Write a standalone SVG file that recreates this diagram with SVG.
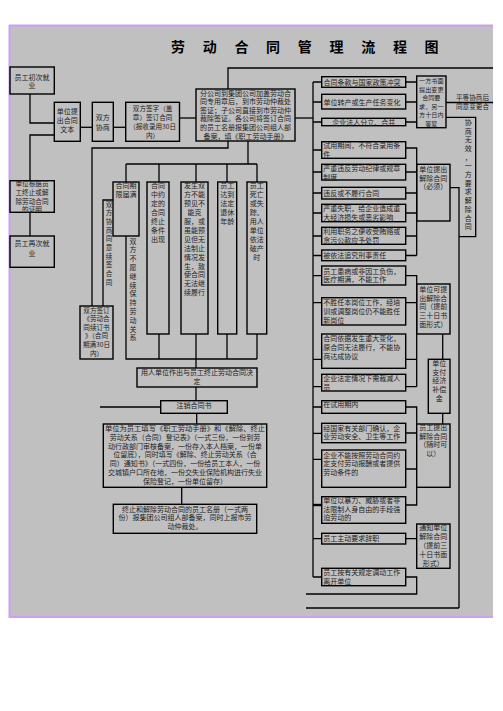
<svg xmlns="http://www.w3.org/2000/svg" width="503" height="711" viewBox="0 0 503 711">
<style>
.bx{fill:none;stroke:#000;stroke-width:1.4}
.ln{fill:none;stroke:#000;stroke-width:1.3}
.t{font-family:"Noto Sans CJK SC","Noto Sans",sans-serif;font-size:7px;fill:#222}
.s{font-size:6.6px}
.xs{font-size:6.1px}
.m{text-anchor:middle}
.ti{font-family:"Noto Sans CJK SC",sans-serif;font-size:14px;font-weight:bold;fill:#000;text-anchor:middle}
</style>
<rect x="0" y="0" width="503" height="711" fill="#fff"/>
<rect x="10" y="26" width="483" height="591" fill="#c0c0c0"/>
<line x1="9" y1="25.5" x2="493" y2="25.5" stroke="#c9a0f5" stroke-width="2"/>
<line x1="9" y1="617" x2="493" y2="617" stroke="#c9a0f5" stroke-width="2"/>
<line x1="9.5" y1="25" x2="9.5" y2="618" stroke="#c9a0f5" stroke-width="2"/>

<g id="title">
<text class="ti" x="178" y="52">劳</text><text class="ti" x="209.7" y="52">动</text><text class="ti" x="241.4" y="52">合</text><text class="ti" x="273" y="52">同</text><text class="ti" x="304.8" y="52">管</text><text class="ti" x="336.5" y="52">理</text><text class="ti" x="368.2" y="52">流</text><text class="ti" x="400" y="52">程</text><text class="ti" x="431.6" y="52">图</text>
</g>

<g id="connectors">
<polyline class="ln" points="30,94 30,123 54.3,123"/>
<polyline class="ln" points="54.3,135 30,135 30,180.7"/>
<line class="ln" x1="30" y1="212.3" x2="30" y2="236"/>
<line class="ln" x1="80.3" y1="127.3" x2="92.3" y2="127.3"/>
<line class="ln" x1="113.3" y1="127.3" x2="125.7" y2="127.3"/>
<line class="ln" x1="179.5" y1="118" x2="196" y2="118"/>
<polyline class="ln" points="228,89 228,68 493,68"/>
<polyline class="ln" points="92,306 92,148 228,148 228,141"/>
<line class="ln" x1="248" y1="141" x2="248" y2="164"/>
<line class="ln" x1="126" y1="164" x2="257" y2="164"/>
<line class="ln" x1="126" y1="164" x2="126" y2="182"/>
<line class="ln" x1="159" y1="164" x2="159" y2="182"/>
<line class="ln" x1="196" y1="164" x2="196" y2="182"/>
<line class="ln" x1="227" y1="164" x2="227" y2="182"/>
<line class="ln" x1="257" y1="164" x2="257" y2="182"/>
<polyline class="ln" points="113,200 103,200 103,306"/>
<polyline class="ln" points="126,236 126,359 257,359"/>
<line class="ln" x1="159" y1="334" x2="159" y2="359"/>
<line class="ln" x1="196" y1="334" x2="196" y2="368"/>
<line class="ln" x1="227" y1="334" x2="227" y2="359"/>
<line class="ln" x1="257" y1="334" x2="257" y2="359"/>
<line class="ln" x1="196" y1="387" x2="196" y2="400.7"/>
<line class="ln" x1="100" y1="407" x2="160.7" y2="407"/>
<line class="ln" x1="196.7" y1="413.3" x2="196.7" y2="424"/>
<line class="ln" x1="181.7" y1="487.3" x2="181.7" y2="504.3"/>
<line class="ln" x1="295" y1="118" x2="313" y2="118"/>
<line class="ln" x1="313" y1="82" x2="313" y2="577"/>
<path class="ln" d="M313,82H321.7M313,102H321.7M313,122H321.7M313,150H321.7M313,172H321.7M313,193H321.7M313,213H321.7M313,236H321.7M313,255.5H321.7M313,275.7H321.7M313,302.7H321.7M313,359.3H321.7M313,386.7H321.7M313,407H321.7M313,433.3H321.7M313,459.3H321.7M313,538.7H321.7M313,577H321.7"/>
<line x1="313" y1="505" x2="321.7" y2="505" stroke="#000" stroke-width="2.4"/>
<path class="ln" d="M405.7,82H416.7M405.7,102H416.7M405.7,122H416.7"/>
<line class="ln" x1="446" y1="102.5" x2="493" y2="102.5"/>
<polyline class="ln" points="446,117.3 475.7,117.3 475.7,236.7 459,236.7"/>
<path class="ln" d="M405.7,148H416.7V255.5M405.7,172H416.7M405.7,193H416.7M405.7,213H416.7M405.7,236H416.7M405.7,255.5H416.7"/>
<polyline class="ln" points="450,187.7 459,187.7 459,608"/>
<path class="ln" d="M405.7,275.7H416.7V386.7M405.7,302.7H416.7M405.7,359.3H416.7M405.7,386.7H416.7"/>
<line class="ln" x1="442.7" y1="334" x2="442.7" y2="359.3"/>
<line class="ln" x1="442.7" y1="413.3" x2="442.7" y2="424"/>
<path class="ln" d="M405.7,407H416.7V424M405.7,433H416.7M405.7,469H416.7M405.7,505H416.7V487.3"/>
<path class="ln" d="M405.7,538.7H416.7M405.7,577H416.7V594H306"/>
<line class="ln" x1="306" y1="608" x2="459" y2="608"/>
</g>

<g id="n_first"><rect class="bx" x="10" y="67" width="44.3" height="27"/>
<text class="t m" x="32" y="79.8">员工初次就</text><text class="t m" x="32" y="88.4">业</text></g>
<g id="n_text"><rect class="bx" x="54.3" y="102.3" width="26" height="39"/>
<text class="t m" x="67.3" y="114.2">单位提</text><text class="t m" x="67.3" y="123.3">出合同</text><text class="t m" x="67.3" y="132.4">文本</text></g>
<g id="n_nego"><rect class="bx" x="92.3" y="102.3" width="21" height="39"/>
<text class="t m" x="102.8" y="120.2">双方</text><text class="t m" x="102.8" y="129.8">协商</text></g>
<g id="n_sign"><rect class="bx" x="125.7" y="102.3" width="53.8" height="39"/>
<text class="t s m" x="152.6" y="111.3">双方签字（盖</text><text class="t s m" x="152.6" y="120.1">章）签订合同</text><text class="t s m" x="152.6" y="128.9">（报收录用30日</text><text class="t s m" x="152.6" y="137.7">内）</text></g>
<g id="n_reg"><rect class="bx" x="196" y="89" width="99" height="52"/>
<text class="t m" x="245.5" y="95.5">分公司到集团公司加盖劳动合</text><text class="t m" x="245.5" y="104.1">同专用章后，到市劳动仲裁处</text><text class="t m" x="245.5" y="112.7">签证；子公司直接到市劳动仲</text><text class="t m" x="245.5" y="121.3">裁除签证。各公司将签订合同</text><text class="t m" x="245.5" y="129.9">的员工名册报集团公司组人部</text><text class="t m" x="245.5" y="138.5">备案，填《职工劳动手册》</text></g>
<g id="n_proof"><rect class="bx" x="10" y="180.7" width="44.3" height="31.6"/>
<text class="t s m" x="32" y="186.3">单位根据员</text><text class="t s m" x="32" y="194.9">工终止或解</text><text class="t s m" x="32" y="203.5">除劳动合同</text><text class="t s m" x="32" y="212.1">的证明</text></g>
<g id="n_again"><rect class="bx" x="10" y="236" width="44.3" height="31.3"/>
<text class="t m" x="32" y="246">员工再次就</text><text class="t m" x="32" y="255.5">业</text></g>
<g id="n_renew"><rect class="bx" x="80" y="306" width="33" height="53"/>
<text class="t s m" x="96.5" y="312.6">双方签订</text><text class="t s m" x="96.5" y="321.2">《劳动合</text><text class="t s m" x="96.5" y="329.8">同续订书</text><text class="t s m" x="96.5" y="338.4">》（合同</text><text class="t s m" x="96.5" y="347">期满30日</text><text class="t s m" x="96.5" y="355.6">内）</text></g>
<g id="n_agree"><text class="t s m" x="109" y="206.5">双</text><text class="t s m" x="109" y="215.2">方</text><text class="t s m" x="109" y="223.9">协</text><text class="t s m" x="109" y="232.6">商</text><text class="t s m" x="109" y="241.3">同</text><text class="t s m" x="109" y="250">意</text><text class="t s m" x="109" y="258.7">续</text><text class="t s m" x="109" y="267.4">签</text><text class="t s m" x="109" y="276.1">合</text><text class="t s m" x="109" y="284.8">同</text></g>
<g id="n_expire"><rect class="bx" x="113" y="182" width="26" height="54"/>
<text class="t m" x="126" y="188.4">合同期</text><text class="t m" x="126" y="197">限届满</text></g>
<g id="n_unwill"><text class="t m" x="133" y="243.6">双</text><text class="t m" x="133" y="252.4">方</text><text class="t m" x="133" y="261.2">不</text><text class="t m" x="133" y="270">愿</text><text class="t m" x="133" y="278.8">继</text><text class="t m" x="133" y="287.6">续</text><text class="t m" x="133" y="296.4">保</text><text class="t m" x="133" y="305.2">持</text><text class="t m" x="133" y="314">劳</text><text class="t m" x="133" y="322.8">动</text><text class="t m" x="133" y="331.6">关</text><text class="t m" x="133" y="340.4">系</text></g>
<g id="n_cond"><rect class="bx" x="147" y="182" width="22" height="152"/>
<text class="t m" x="158" y="188.4">合同</text><text class="t m" x="158" y="197.3">中约</text><text class="t m" x="158" y="206.2">定的</text><text class="t m" x="158" y="215.1">合同</text><text class="t m" x="158" y="224">终止</text><text class="t m" x="158" y="232.9">条件</text><text class="t m" x="158" y="241.8">出现</text></g>
<g id="n_force"><rect class="bx" x="181" y="182" width="27" height="152"/>
<text class="t m" x="194.5" y="188.4">发生双</text><text class="t m" x="194.5" y="197.3">方不能</text><text class="t m" x="194.5" y="206.2">预见不</text><text class="t m" x="194.5" y="215.1">能克</text><text class="t m" x="194.5" y="224">服，或</text><text class="t m" x="194.5" y="232.9">虽能预</text><text class="t m" x="194.5" y="241.8">见但无</text><text class="t m" x="194.5" y="250.7">法制止</text><text class="t m" x="194.5" y="259.6">情况发</text><text class="t m" x="194.5" y="268.5">生，致</text><text class="t m" x="194.5" y="277.4">使合同</text><text class="t m" x="194.5" y="286.3">无法继</text><text class="t m" x="194.5" y="295.2">续履行</text></g>
<g id="n_retire"><rect class="bx" x="217.7" y="182" width="19" height="152"/>
<text class="t m" x="227.2" y="188.4">员工</text><text class="t m" x="227.2" y="197.3">达到</text><text class="t m" x="227.2" y="206.2">法定</text><text class="t m" x="227.2" y="215.1">退休</text><text class="t m" x="227.2" y="224">年龄</text></g>
<g id="n_death"><rect class="bx" x="247" y="182" width="19.7" height="152"/>
<text class="t m" x="256.8" y="188.4">员工</text><text class="t m" x="256.8" y="197.3">死亡</text><text class="t m" x="256.8" y="206.2">或失</text><text class="t m" x="256.8" y="215.1">踪、</text><text class="t m" x="256.8" y="224">用人</text><text class="t m" x="256.8" y="232.9">单位</text><text class="t m" x="256.8" y="241.8">依法</text><text class="t m" x="256.8" y="250.7">破产</text><text class="t m" x="256.8" y="259.6">时</text></g>
<g id="n_decide"><rect class="bx" x="137" y="368" width="120" height="19"/>
<text class="t m" x="197" y="374.8">用人单位作出与员工终止劳动合同决</text><text class="t m" x="197" y="383.6">定</text></g>
<g id="n_cancel"><rect class="bx" x="160.7" y="400.7" width="66.6" height="12.6"/>
<text class="t m" x="194" y="407.8">注销合同书</text></g>
<g id="n_fill"><rect class="bx" x="103.3" y="424" width="163.4" height="63.3"/>
<text class="t m" x="185" y="431" textLength="160" lengthAdjust="spacingAndGlyphs">单位为员工填写《职工劳动手册》和《解除、终止</text>
<text class="t m" x="185" y="439.8">劳动关系（合同）登记表》（一式三份，一份到劳</text>
<text class="t m" x="185" y="448.6">动行政部门审核备案，一份存入本人档案，一份单</text>
<text class="t m" x="185" y="457.4">位留底），同时填写《解除、终止劳动关系（合</text>
<text class="t m" x="185" y="466.2">同）通知书》（一式四份，一份给员工本人，一份</text>
<text class="t m" x="185" y="475">交城镇户口所在地，一份交失业保险机构进行失业</text>
<text class="t m" x="185" y="483.8">保险登记，一份单位留存）</text></g>
<g id="n_list"><rect class="bx" x="113.3" y="504.3" width="143.4" height="29"/>
<text class="t m" x="185" y="511.5">终止和解除劳动合同的员工名册（一式两</text>
<text class="t m" x="185" y="520.3">份）报集团公司组人部备案，同时上报市劳</text>
<text class="t m" x="185" y="529.1">动仲裁处。</text></g>

<g id="r1"><rect class="bx" x="321.7" y="76.7" width="84" height="10.6"/><text class="t" x="323.5" y="84.5">合同条款与国家政策冲突</text></g>
<g id="r2"><rect class="bx" x="321.7" y="94.3" width="84" height="14.7"/><text class="t" x="323.5" y="104.5">单位转产或生产任务变化</text></g>
<g id="r3"><rect class="bx" x="321.7" y="118.3" width="84" height="7.4"/><text class="t m" x="363.7" y="124.5">企业法人分立、合并</text></g>
<g id="n_change"><rect class="bx" x="416.7" y="76" width="29.3" height="51.7"/>
<text class="t xs m" x="431.3" y="83.3">一方书面</text><text class="t xs m" x="431.3" y="91.8">提出变更</text><text class="t xs m" x="431.3" y="100.3">合同要</text><text class="t xs m" x="431.3" y="108.8">求，另一</text><text class="t xs m" x="431.3" y="117.3">方十日内</text><text class="t xs m" x="431.3" y="125.8">答复</text></g>
<g id="n_equal"><text class="t s m" x="472.5" y="100.3">平等协商后</text><text class="t s m" x="472.5" y="109">同意变更合</text></g>
<g id="n_fail"><text class="t m" x="468.3" y="124.8">协</text><text class="t m" x="468.3" y="133.5">商</text><text class="t m" x="468.3" y="142.2">无</text><text class="t m" x="468.3" y="150.9">效</text><text class="t m" x="468.3" y="159.6">，</text><text class="t m" x="468.3" y="168.3">一</text><text class="t m" x="468.3" y="177">方</text><text class="t m" x="468.3" y="185.7">要</text><text class="t m" x="468.3" y="194.4">求</text><text class="t m" x="468.3" y="203.1">解</text><text class="t m" x="468.3" y="211.8">除</text><text class="t m" x="468.3" y="220.5">合</text><text class="t m" x="468.3" y="229.2">同</text></g>

<g id="r4"><rect class="bx" x="321.7" y="141.7" width="84" height="16.6"/><text class="t" x="323.3" y="148.3">试用期间，不符合录用条</text><text class="t" x="323.3" y="157">件</text></g>
<g id="r5"><rect class="bx" x="321.7" y="164.3" width="84" height="15.7"/><text class="t" x="323.3" y="171.3">严重违反劳动纪律或规章</text><text class="t" x="323.3" y="180">制度</text></g>
<g id="r6"><rect class="bx" x="321.7" y="187.3" width="84" height="11.7"/><text class="t" x="323.3" y="195.5">违反或不履行合同</text></g>
<g id="r7"><rect class="bx" x="321.7" y="204.3" width="84" height="17.4"/><text class="t" x="323.3" y="211">严重失职，给企业造成重</text><text class="t" x="323.3" y="219.8">大经济损失或恶劣影响</text></g>
<g id="r8"><rect class="bx" x="321.7" y="227.3" width="84" height="17"/><text class="t" x="323.3" y="233.8">利用职务之便收受贿赂或</text><text class="t" x="323.3" y="242.6">贪污公款应予处罚</text></g>
<g id="r9"><rect class="bx" x="321.7" y="250" width="84" height="10.7"/><text class="t" x="323.3" y="257.8">被依法追究刑事责任</text></g>
<g id="n_must"><rect class="bx" x="416.7" y="164.3" width="33.3" height="56.7"/>
<text class="t m" x="433.3" y="171.8">单位提出</text><text class="t m" x="433.3" y="180.6">解除合同</text><text class="t m" x="433.3" y="189.4">（必须）</text></g>

<g id="r10"><rect class="bx" x="321.7" y="266" width="84" height="19"/><text class="t" x="323.3" y="273.5">员工患病或非因工负伤，</text><text class="t" x="323.3" y="282.3">医疗期满，不能工作</text></g>
<g id="r11"><rect class="bx" x="321.7" y="297.7" width="84" height="27.3"/><text class="t" x="323.3" y="305.2">不胜任本岗位工作，经培</text><text class="t" x="323.3" y="314">训或调整岗位仍不能胜任</text><text class="t" x="323.3" y="322.8">新岗位</text></g>
<g id="r12"><rect class="bx" x="321.7" y="334" width="84" height="34.3"/><text class="t" x="323.3" y="341.2">合同依据发生重大变化，</text><text class="t" x="323.3" y="350">原合同无法履行，不能协</text><text class="t" x="323.3" y="358.8">商达成协议</text></g>
<g id="r13"><rect class="bx" x="321.7" y="374.3" width="84" height="16.7"/><text class="t" x="323.3" y="381.2">企业法定情况下需裁减人</text><text class="t" x="323.3" y="390">员</text></g>
<g id="n_may"><rect class="bx" x="416.7" y="284" width="33.3" height="50"/>
<text class="t m" x="433.3" y="291.8">单位可提</text><text class="t m" x="433.3" y="300.6">出解除合</text><text class="t m" x="433.3" y="309.4">同（提前</text><text class="t m" x="433.3" y="318.2">三十日书</text><text class="t m" x="433.3" y="327">面形式）</text></g>
<g id="n_comp"><rect class="bx" x="428.3" y="359.3" width="21.7" height="54"/>
<text class="t m" x="439.2" y="365.8">单位</text><text class="t m" x="439.2" y="374.6">支付</text><text class="t m" x="439.2" y="383.4">经济</text><text class="t m" x="439.2" y="392.2">补偿</text><text class="t m" x="439.2" y="401">金</text></g>

<g id="r14"><rect class="bx" x="321.7" y="400.7" width="84" height="12.6"/><text class="t" x="323.3" y="407.2">在试用期内</text></g>
<g id="r15"><rect class="bx" x="321.7" y="423.3" width="84" height="19.4"/><text class="t" x="323.3" y="430.5">经国家有关部门确认，企</text><text class="t" x="323.3" y="439.3">业劳动安全、卫生等工作</text></g>
<g id="r16"><rect class="bx" x="321.7" y="450" width="84" height="37.3"/><text class="t" x="323.3" y="457.5">企业不能按照劳动合同约</text><text class="t" x="323.3" y="466.3">定支付劳动报酬或者提供</text><text class="t" x="323.3" y="475.1">劳动条件的</text></g>
<g id="r17"><rect class="bx" x="321.7" y="496.7" width="84" height="26.6"/><text class="t" x="323.3" y="502.8">单位以暴力、威胁或者非</text><text class="t" x="323.3" y="511.6">法限制人身自由的手段强</text><text class="t" x="323.3" y="520.4">迫劳动的</text></g>
<g id="n_emp"><rect class="bx" x="416.7" y="424" width="33.3" height="63.3"/>
<text class="t m" x="433.3" y="429.8">员工提出</text><text class="t m" x="433.3" y="438.6">解除合同</text><text class="t m" x="433.3" y="447.4">（随时可</text><text class="t m" x="433.3" y="456.2">以）</text></g>

<g id="r18"><rect class="bx" x="321.7" y="533.3" width="84" height="10.7"/><text class="t" x="323.3" y="541.2">员工主动要求辞职</text></g>
<g id="r19"><rect class="bx" x="321.7" y="568.3" width="84" height="17.4"/><text class="t" x="323.3" y="575">员工按有关规定调动工作</text><text class="t" x="323.3" y="583.8">离开单位</text></g>
<g id="n_notice"><rect class="bx" x="416.7" y="524" width="33.3" height="44.3"/>
<text class="t m" x="433.3" y="530.4">通知单位</text><text class="t m" x="433.3" y="539.2">解除合同</text><text class="t m" x="433.3" y="548">（提前三</text><text class="t m" x="433.3" y="556.8">十日书面</text><text class="t m" x="433.3" y="565.6">形式）</text></g>
</svg>
